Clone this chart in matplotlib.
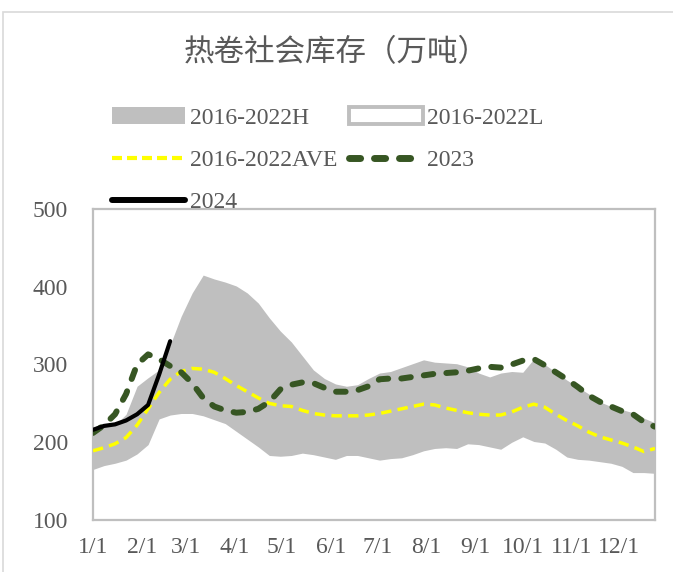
import matplotlib.pyplot as plt
import numpy as np
from matplotlib.patches import Patch, Rectangle
from matplotlib.lines import Line2D

# weekly points, day-of-year offsets
weeks = np.arange(52)
days = weeks * 7

# month tick positions (day of year) and labels
month_days = [0, 31, 59, 90, 120, 151, 181, 212, 243, 273, 304, 334]
month_labels = ["1/1", "2/1", "3/1", "4/1", "5/1", "6/1",
                "7/1", "8/1", "9/1", "10/1", "11/1", "12/1"]

high_2016_2022 = [218, 220, 222, 236, 272, 283, 293, 325, 362, 392,
                  415, 410, 406, 401, 392, 379, 360, 343, 329, 311,
                  293, 282, 275, 272, 274, 282, 289, 291, 296, 301,
                  306, 303, 302, 301, 297, 289, 284, 289, 291, 290,
                  307, 300, 290, 280, 271, 262, 252, 246, 242, 238,
                  231, 225]

low_2016_2022 = [165, 170, 173, 177, 185, 197, 230, 235, 237, 237,
                 234, 229, 224, 214, 204, 194, 183, 182, 183, 186,
                 184, 181, 178, 183, 183, 180, 177, 179, 180, 184,
                 189, 192, 193, 192, 198, 197, 194, 191, 200, 207,
                 201, 199, 191, 181, 178, 177, 175, 173, 169, 161,
                 161, 160]

ave_2016_2022 = [189, 193, 198, 206, 222, 243, 264, 281, 291, 295,
                 294, 290, 282, 273, 265, 257, 250, 247, 246, 241,
                 237, 235, 234, 234, 234, 235, 237, 240, 243, 246,
                 249, 248, 244, 241, 238, 236, 235, 235, 239, 245,
                 249, 245, 236, 228, 221, 213, 207, 203, 199, 194,
                 188, 192]

y2023 = [212, 222, 236, 262, 300, 313, 307, 298, 290, 276,
         257, 246, 241, 238, 239, 243, 252, 268, 274, 277,
         276, 270, 265, 265, 267, 272, 281, 282, 282, 284,
         286, 288, 289, 290, 292, 295, 297, 296, 300, 305,
         307, 299, 290, 281, 271, 260, 252, 246, 240, 236,
         226, 220]

y2024 = [216, 221, 223, 228, 236, 248, 287, 330]

txt_color = "#595959"
plt.rcParams['font.family'] = ['Liberation Serif', 'DejaVu Serif']

fig = plt.figure(figsize=(6.73, 5.72), dpi=100)
ax = fig.add_axes([93 / 673, 1 - 520 / 572, (655 - 93) / 673, (520 - 209) / 572])

# outer chart frame (left/top visible)
fig.patches.append(Rectangle((3 / 673, -0.05), 1.2, 1 - 12 / 572 + 0.05,
                             transform=fig.transFigure, facecolor='none',
                             edgecolor='#D9D9D9', linewidth=1.2))

ax.fill_between(days, low_2016_2022, high_2016_2022, color='#BFBFBF',
                linewidth=0, zorder=1)
ax.plot(days, ave_2016_2022, color='#FFFF00', linewidth=2.5,
        dashes=(3.0, 1.8), zorder=3)
ax.plot(days, y2023, color='#375623', linewidth=4.3,
        dashes=(1.6, 2.2), dash_capstyle='round', zorder=4)
ax.plot(days[:len(y2024)], y2024, color='black', linewidth=3.0,
        solid_capstyle='round', zorder=5)

ax.set_xlim(0, 357)
ax.set_ylim(100, 500)
ax.set_yticks([100, 200, 300, 400, 500])
ax.set_xticks(month_days)
ax.set_xticklabels(month_labels)
ax.tick_params(axis='both', length=0, labelsize=17, colors=txt_color)
ax.tick_params(axis='y', pad=18)
ax.tick_params(axis='x', pad=12)
for s in ax.spines.values():
    s.set_color('#BFBFBF')
    s.set_linewidth(1.6)

fig.text(336 / 673, 1 - 53 / 572, "热卷社会库存（万吨）", ha='center', va='center',
         fontsize=22, color=txt_color,
         family=['Noto Sans CJK SC', 'DejaVu Sans'])

handles = [
    Patch(facecolor='#BFBFBF', edgecolor='#BFBFBF', linewidth=0),
    Line2D([], [], color='#FFFF00', linewidth=3.0, dashes=(2.4, 1.2)),
    Line2D([], [], color='black', linewidth=4.3, solid_capstyle='round'),
    Patch(facecolor='white', edgecolor='#BFBFBF', linewidth=2.8),
    Line2D([], [], color='#375623', linewidth=5.0, dashes=(1.6, 2.0),
           dash_capstyle='round'),
]
labels = ["2016-2022H", "2016-2022AVE", "2024", "2016-2022L", "2023"]
leg = fig.legend(handles, labels, ncol=2, loc='upper left',
                 bbox_to_anchor=(112 / 673, 1 - 107 / 572), frameon=False,
                 fontsize=17, handlelength=3.1, handleheight=0.7,
                 handletextpad=0.2, columnspacing=0.51, labelspacing=0.88,
                 borderaxespad=0, borderpad=0)
for t in leg.get_texts():
    t.set_color(txt_color)

fig.savefig("out.png", dpi=100)
